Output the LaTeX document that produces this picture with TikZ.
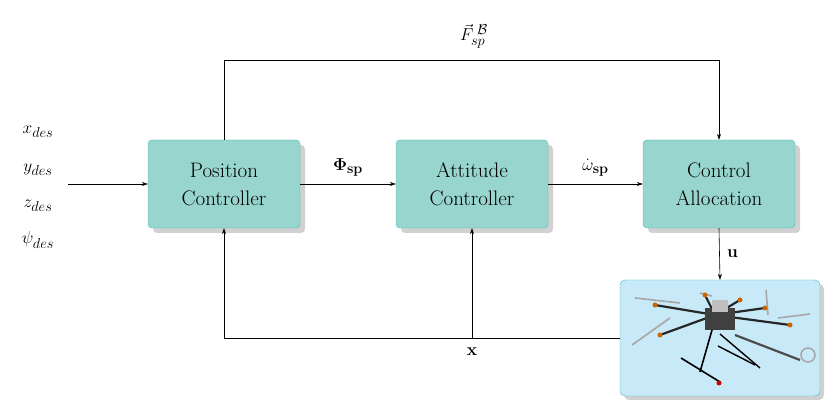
\documentclass[tikz,border=0pt]{standalone}
\usepackage{amsmath,bm}
\usetikzlibrary{arrows.meta,shadows}
\definecolor{boxfill}{HTML}{97D5CE}
\definecolor{boxline}{HTML}{3DBFB5}
\definecolor{dronefill}{HTML}{C8E9F8}
\begin{document}
\begin{tikzpicture}[x=1pt,y=-1pt,
  blk/.style={draw=boxline,fill=boxfill,rounded corners=4pt,minimum width=152pt,minimum height=88pt,align=center,font=\fontsize{21}{28}\selectfont,drop shadow={shadow xshift=5pt,shadow yshift=-5pt,fill=gray!60,opacity=.6}},
  lbl/.style={font=\fontsize{19}{22}\selectfont},
  arr/.style={-{Stealth[length=6pt,width=4pt]},line width=0.6pt},
  ln/.style={line width=0.6pt},
  arm/.style={line width=2.2pt,black!85},
  prop/.style={line width=1.6pt,gray!70}]
\useasboundingbox (0,0) rectangle (831,406);
\node[blk] (pc) at (224,184) {Position\\Controller};
\node[blk] (ac) at (472,184) {Attitude\\Controller};
\node[blk] (ca) at (719,184) {Control\\Allocation};
\node[draw=boxline,fill=dronefill,rounded corners=5pt,minimum width=200pt,minimum height=116pt,drop shadow={shadow xshift=4pt,shadow yshift=-4pt,fill=gray!60,opacity=.6}] (dr) at (720,338) {};
% drone sketch
\begin{scope}
\draw[arm] (715,315) -- (655,305);
\draw[arm] (715,315) -- (660,335);
\draw[arm] (715,315) -- (765,308);
\draw[arm] (715,315) -- (790,325);
\draw[arm] (715,315) -- (705,295);
\draw[arm] (715,315) -- (740,300);
\draw[arm,black!70] (735,335) -- (800,360);
\draw[gray!70,line width=1.5pt] (808,355) circle (7pt);
\draw[prop] (635,298) -- (680,303);
\draw[prop] (632,345) -- (670,318);
\draw[prop] (700,293) -- (712,296);
\draw[prop] (766,290) -- (768,315);
\draw[prop] (778,318) -- (810,314);
\fill[black!75] (705,308) rectangle (735,330);
\fill[gray!50] (712,300) rectangle (728,312);
\foreach \p in {(655,305),(660,335),(765,308),(790,325),(705,295),(740,300)} \fill[orange!80!black] \p circle (2.5pt);
\draw[line width=1.6pt] (712,330) -- (700,372);
\draw[line width=1.6pt] (681,358) -- (720,382);
\draw[line width=1.4pt] (720,334) -- (760,368);
\draw[line width=1.4pt] (718,346) -- (755,365);
\fill[red!80!black] (719,383) circle (2.5pt);
\end{scope}
% inputs
\node[lbl] at (38,132) {$x_{des}$};
\node[lbl] at (38,170) {$y_{des}$};
\node[lbl] at (38,206) {$z_{des}$};
\node[lbl] at (38,240) {$\psi_{des}$};
\coordinate (in) at (68,184);
\draw[arr] (in) -- (pc.west);
\draw[arr] (pc.east) -- (ac.west) node[lbl,midway,above=4pt] {$\bm{\Phi}_{\mathbf{sp}}$};
\draw[arr] (ac.east) -- (ca.west) node[lbl,midway,above=4pt] {$\dot{\omega}_{\mathbf{sp}}$};
\coordinate (t1) at (224,60);
\coordinate (t2) at (719,60);
\draw[arr] (pc.north) -- (t1) -- (t2) -- (ca.north);
\node[lbl] at (474,36) {$\vec{F}_{sp}^{\;\mathcal{B}}$};
\draw[arr] (ca.south) -- (dr.north) node[lbl,midway,right=4pt] {$\mathbf{u}$};
\coordinate (b1) at (224,338);
\coordinate (b2) at (472,338);
\draw[ln] (dr.west) -- (b2);
\draw[arr] (b2) -- (b1) -- (pc.south);
\draw[arr] (b2) -- (ac.south);
\node[lbl] at (472,352) {$\mathbf{x}$};
\end{tikzpicture}
\end{document}
